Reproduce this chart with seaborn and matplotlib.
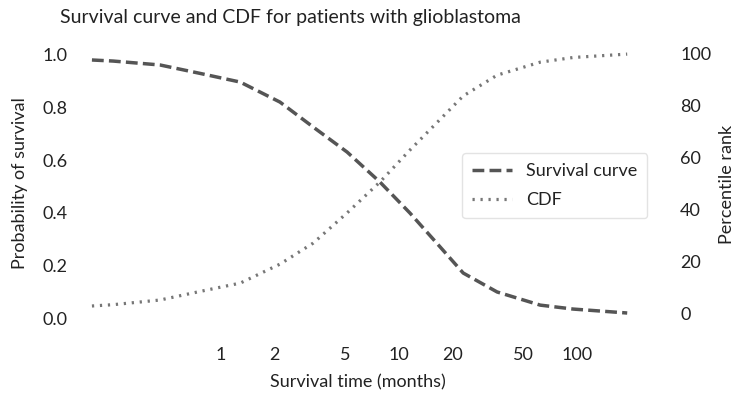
import numpy as np
import pandas as pd
import matplotlib
matplotlib.use("Agg")
import matplotlib.pyplot as plt
import seaborn as sns

# Data
months = [0.188, 0.247, 0.454, 0.762, 1.28, 2.14, 3.29, 5.1, 7.8, 11.5, 17.0, 22.9, 35.5, 62, 95, 191]
survival = [0.981, 0.977, 0.962, 0.930, 0.897, 0.821, 0.726, 0.631, 0.517, 0.399, 0.270, 0.171, 0.099, 0.049, 0.034, 0.019]
cdf = [2.7, 3.2, 5.0, 8.3, 11.5, 18.8, 26.9, 38.5, 50.4, 62.7, 74.5, 83.5, 91.5, 96.5, 98.3, 99.6]
xticks = [1, 2, 5, 10, 20, 50, 100]
yticks_left = [0.0, 0.2, 0.4, 0.6, 0.8, 1.0]
yticks_right = [0, 20, 40, 60, 80, 100]

df = pd.DataFrame({"months": months, "survival": survival, "cdf": cdf})

sns.set_style("white")
plt.rcParams["font.family"] = ["Lato", "DejaVu Sans"]
text_color = "#222222"

W, H = 744, 400
fig = plt.figure(figsize=(W / 100, H / 100), dpi=100)
L, R, T, B = 76, 669, 45, 328
ax = fig.add_axes([L / W, 1 - B / H, (R - L) / W, (B - T) / H])
ax2 = ax.twinx()

sns.lineplot(data=df, x="months", y="survival", ax=ax, color="#555555",
             linestyle="--", linewidth=2.5, label="Survival curve", legend=False)
sns.lineplot(data=df, x="months", y="cdf", ax=ax2, color="#777777",
             linestyle=":", linewidth=2.3, label="CDF", legend=False)
ax.lines[0].set_dashes([3.4, 1.5])
ax2.lines[0].set_dashes([0.7, 1.8])

ax.set_xscale("log")
ax.set_xlim(0.153, 328)
ax.set_ylim(-0.038, 1.038)
ax2.set_ylim(-5.77, 103.1)

ax.set_xticks(xticks)
ax.set_xticklabels([str(t) for t in xticks])
ax.xaxis.set_minor_locator(matplotlib.ticker.NullLocator())
ax.set_yticks(yticks_left)
ax.set_yticklabels([f"{v:.1f}" for v in yticks_left])
ax2.set_yticks(yticks_right)
ax2.set_yticklabels([str(v) for v in yticks_right])

fs = 13
for a in (ax, ax2):
    a.tick_params(length=0, labelsize=fs, colors=text_color)
    for s in a.spines.values():
        s.set_visible(False)
    a.grid(False)
ax.tick_params(axis="x", pad=14)
ax.tick_params(axis="y", pad=6)
ax2.tick_params(axis="y", pad=8)

ax.set_xlabel("Survival time (months)", fontsize=fs, color=text_color)
ax.set_ylabel("Probability of survival", fontsize=fs, color=text_color)
ax2.set_ylabel("Percentile rank", fontsize=fs, color=text_color)
ax.xaxis.set_label_coords((358 - L) / (R - L), -(382 - B) / (B - T), transform=ax.transAxes)
ax.yaxis.set_label_coords(-(L - 20) / (R - L), 0.5 - (183 - (T + B) / 2) / (B - T))
ax2.yaxis.set_label_coords(1 + (727 - R) / (R - L), 0.5 - (184 - (T + B) / 2) / (B - T))
ax.xaxis.label.set_va("center")
ax.yaxis.label.set_va("center")
ax2.yaxis.label.set_va("center")

fig.text(60 / W, 1 - 18 / H, "Survival curve and CDF for patients with glioblastoma",
         fontsize=14, color=text_color, ha="left", va="center")

handles = ax.get_lines() + ax2.get_lines()
leg = fig.legend(handles, ["Survival curve", "CDF"], loc="upper left",
                 bbox_to_anchor=(462 / W, 1 - 153 / H), fontsize=fs,
                 frameon=True, fancybox=True, handlelength=2.2,
                 borderaxespad=0, labelspacing=0.75, borderpad=0.55,
                 labelcolor=text_color)
leg.get_frame().set_edgecolor("#dddddd")
leg.get_frame().set_linewidth(1.0)

fig.savefig("out.png", dpi=100)
